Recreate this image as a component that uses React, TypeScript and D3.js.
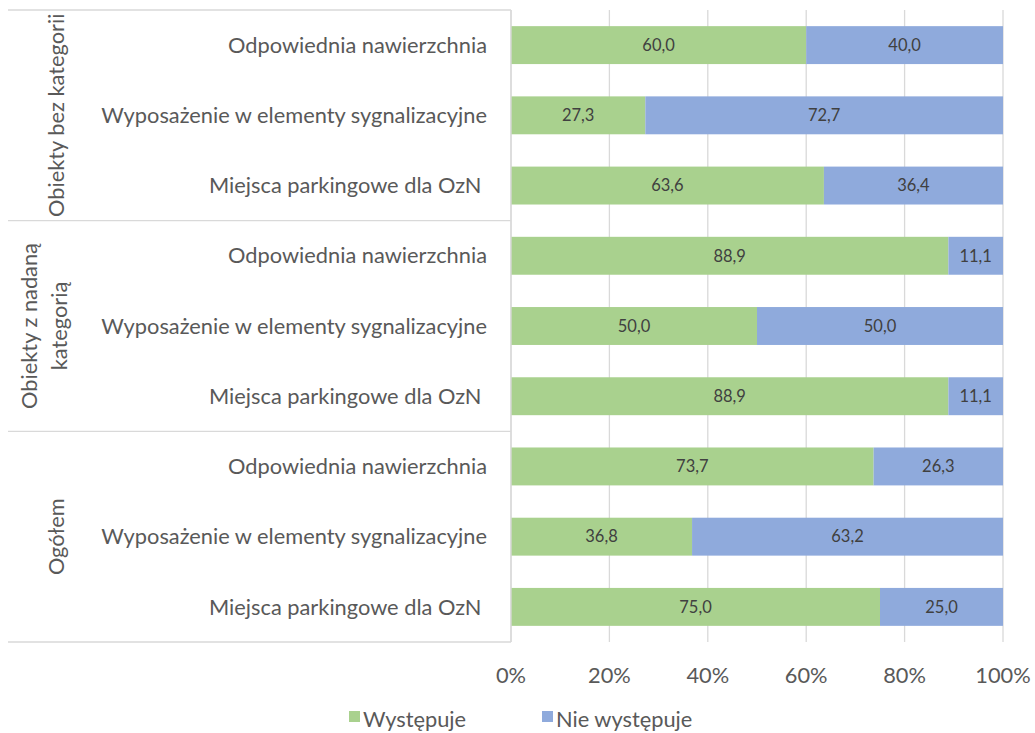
import React from "react";
import * as d3 from "d3";

const groups = ["Obiekty bez kategorii", "Obiekty z nadaną kategorią", "Ogółem"];
const groupLines = [["Obiekty bez kategorii"], ["Obiekty z nadaną", "kategorią"], ["Ogółem"]];
const categories = ["Odpowiednia nawierzchnia", "Wyposażenie w elementy sygnalizacyjne", "Miejsca parkingowe dla OzN "];
const wystepuje = [60.0, 27.3, 63.6, 88.9, 50.0, 88.9, 73.7, 36.8, 75.0];
const nieWystepuje = [40.0, 72.7, 36.4, 11.1, 50.0, 11.1, 26.3, 63.2, 25.0];
const xTicks = [0, 20, 40, 60, 80, 100];
const seriesNames = ["Występuje", "Nie występuje"];
const colors = ["#A9D18E", "#8FAADC"];

const W = 1035, H = 733;
const left = 511, right = 1003, top = 10, bottom = 642;
const FONT = "Lato, 'Open Sans', sans-serif";
const FS = 21.8;

export default function App() {
  const rows = groups.flatMap((g, gi) => categories.map((c, ci) => ({ key: `${gi}-${ci}`, g: gi, label: c })));
  const x = d3.scaleLinear().domain([0, 100]).range([left, right]);
  const y = d3.scaleBand<string>().domain(rows.map(r => r.key)).range([top, bottom]).paddingInner(0.46).paddingOuter(0.23);
  const fmt = (v: number) => v.toFixed(1).replace(".", ",");
  const groupBounds = groups.map((_, gi) => {
    const keys = rows.filter(r => r.g === gi).map(r => r.key);
    const step = y.step();
    const y0 = (y(keys[0]) as number) - step * 0.23;
    const y1 = (y(keys[keys.length - 1]) as number) + y.bandwidth() + step * 0.23;
    return [y0, y1];
  });
  const grid = "#D9D9D9";
  const text = "#595959";
  return (
    <svg width={W} height={H} style={{ position: "absolute", left: 0, top: 0, background: "#fff" }} fontFamily={FONT}>
      <rect width={W} height={H} fill="#fff" />
      {xTicks.map(t => (
        <line key={t} x1={x(t)} x2={x(t)} y1={top} y2={bottom} stroke={grid} strokeWidth={1.3} />
      ))}
      {rows.map((r, i) => {
        const yy = y(r.key) as number;
        const bh = y.bandwidth();
        const a = wystepuje[i], b = nieWystepuje[i];
        return (
          <g key={r.key}>
            <rect x={x(0)} y={yy} width={x(a) - x(0)} height={bh} fill={colors[0]} />
            <rect x={x(a)} y={yy} width={x(a + b) - x(a)} height={bh} fill={colors[1]} />
            <text x={(x(0) + x(a)) / 2} y={yy + bh / 2} dy="0.35em" textAnchor="middle" fontSize={16.5} fill="#404040">{fmt(a)}</text>
            <text x={(x(a) + x(a + b)) / 2} y={yy + bh / 2} dy="0.35em" textAnchor="middle" fontSize={16.5} fill="#404040">{fmt(b)}</text>
            <text x={487} y={yy + bh / 2} dy="0.35em" textAnchor="end" fontSize={FS} fill={text} style={{ whiteSpace: "pre" }}>{r.label}</text>
          </g>
        );
      })}
      <line x1={left} x2={left} y1={top} y2={bottom} stroke={grid} strokeWidth={1.3} />
      <line x1={8} x2={left} y1={top} y2={top} stroke={grid} strokeWidth={1.3} />
      {groupBounds.map(([, y1], gi) => (
        <line key={gi} x1={8} x2={left} y1={y1} y2={y1} stroke={grid} strokeWidth={1.3} />
      ))}
      {groupLines.map((lines, gi) => {
        const [y0, y1] = groupBounds[gi];
        const cy = (y0 + y1) / 2;
        const lh = 30;
        const cx = lines.length === 1 ? 56 : 44;
        return (
          <text key={gi} transform={`translate(${cx},${cy}) rotate(-90)`} textAnchor="middle" fontSize={FS} fill={text}>
            {lines.map((l, li) => (
              <tspan key={li} x={0} y={(li - (lines.length - 1) / 2) * lh} dy="0.35em">{l}</tspan>
            ))}
          </text>
        );
      })}
      {xTicks.map(t => (
        <text key={t} x={x(t)} y={675} dy="0.35em" textAnchor="middle" fontSize={FS} fill={text}>{t}%</text>
      ))}
      {seriesNames.map((s, i) => {
        const lx = [349, 542][i];
        return (
          <g key={s}>
            <rect x={lx} y={711} width={11} height={11} fill={colors[i]} />
            <text x={lx + 14} y={719} dy="0.35em" fontSize={FS} fill={text}>{s}</text>
          </g>
        );
      })}
    </svg>
  );
}
